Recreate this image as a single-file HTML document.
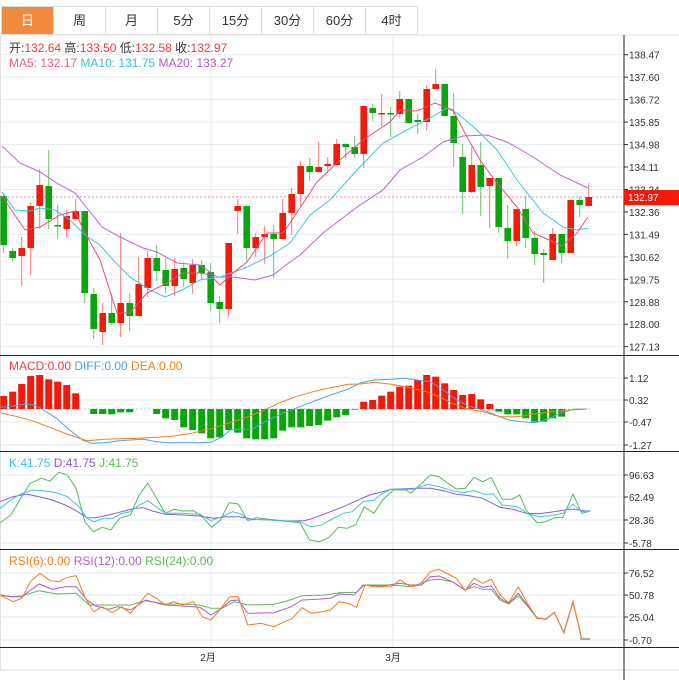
<!DOCTYPE html>
<html><head><meta charset="utf-8"><style>
body{margin:0;background:#fff;width:679px;height:680px;overflow:hidden;font-family:"Liberation Sans","Noto Sans CJK SC",sans-serif}
.tabs{position:absolute;left:1px;top:6px;height:27px;display:flex;border:1px solid #dcdcdc;border-right:none}
.tabs div{width:52px;height:27px;line-height:27px;text-align:center;font-size:13px;color:#333;border-right:1px solid #dcdcdc;box-sizing:border-box}
.tabs div.on{background:#f08a3e;color:#fff}
svg{position:absolute;left:0;top:0}
</style></head><body>
<div class="tabs"><div class="on">日</div><div>周</div><div>月</div><div>5分</div><div>15分</div><div>30分</div><div>60分</div><div>4时</div></div>
<svg id="s" width="679" height="680" xmlns="http://www.w3.org/2000/svg" font-family="Liberation Sans, Noto Sans CJK SC, sans-serif"></svg>
<script>
var S=document.getElementById('s'),h='';
function L(x1,y1,x2,y2,c,w,d){h+='<line x1="'+x1+'" y1="'+y1+'" x2="'+x2+'" y2="'+y2+'" stroke="'+c+'" stroke-width="'+(w||1)+'"'+(d?' stroke-dasharray="'+d+'"':'')+'/>';}
function T(x,y,t,c,s,a){h+='<text x="'+x+'" y="'+y+'" fill="'+c+'" font-size="'+s+'"'+(a?' text-anchor="'+a+'"':'')+'>'+t+'</text>';}
function P(pts,c,fx,fy){var s=pts.map(function(p){return (fx?fx(p[0]):p[0]).toFixed(1)+','+(fy?fy(p[1]):p[1]).toFixed(1)}).join(' ');h+='<polyline points="'+s+'" fill="none" stroke="'+c+'" stroke-width="1"/>';}
var G='#e4ebf1';
// frame
L(0,35,679,35,'#e0e0e0');L(0.5,35,0.5,670,'#e0e0e0');L(0,670,679,670,'#e0e0e0');
// price grid
for(var i=0;i<14;i++){var y=54.7+i*22.46;L(0,y,624,y,G);}
['138.47','137.60','136.72','135.85','134.98','134.11','133.24','132.36','131.49','130.62','129.75','128.88','128.00','127.13'].forEach(function(t,i){var y=54.7+i*22.46;L(624,y,628,y,'#333');T(629,y+4,t,'#333',10);});
// sub grids
[378,400,422,445].forEach(function(y){L(0,y,624,y,G)});
[475,497,520,543].forEach(function(y){L(0,y,624,y,G)});
[573,595,617,640].forEach(function(y){L(0,y,624,y,G)});
L(211,35,211,647,G);L(393,35,393,647,G);
[['1.12',378],['0.32',400],['-0.47',422],['-1.27',445],['96.63',475],['62.49',497],['28.36',520],['-5.78',543],['76.52',573],['50.78',595],['25.04',617],['-0.70',640]].forEach(function(a){L(624,a[1],628,a[1],'#333');T(629,a[1]+4,a[0],'#333',10);});
L(0,355.5,679,355.5,'#222');L(0,451.5,679,451.5,'#222');L(0,549.5,679,549.5,'#222');L(0,647.5,679,647.5,'#222');
L(624,35,624,680,'#222');
T(208,661,'2月','#333',10,'middle');T(393,661,'3月','#333',10,'middle');
// candles [top,bottom,wickTop,wickBot,up]
var C=[[196,245,193,253,0],[251,258,248,261,0],[248,256,237,286,1],[206,248,203,275,1],[185,206,169,229,1],[186,219,150,229,0],[225,226,205,239,0],[216,229,210,237,1],[211,219,199,221,1],[211,293,211,303,0],[294,329,288,339,0],[313,332,303,345,1],[313,323,294,325,0],[303,323,233,337,1],[303,316,293,331,0],[284,316,257,316,1],[258,288,251,297,1],[258,271,245,281,0],[270,286,258,293,0],[269,286,258,296,1],[268,279,262,287,0],[265,283,259,294,1],[265,273,260,280,0],[272,303,263,311,0],[302,309,296,323,0],[243,309,243,317,1],[206,211,199,234,1],[206,248,204,261,0],[237,248,233,257,1],[234,237,226,264,1],[234,239,225,278,0],[213,239,199,239,1],[194,213,188,235,1],[166,194,161,207,1],[166,172,158,181,0],[167,172,142,172,1],[164,166,157,172,1],[144,165,139,165,1],[144,147,143,158,0],[147,154,136,158,0],[106,154,105,168,1],[108,113,104,121,0],[113,114,94,126,1],[113,114,107,137,0],[99,114,91,118,1],[99,123,99,123,0],[120,122,114,134,0],[89,122,85,131,1],[84,89,69,89,1],[84,116,84,117,0],[116,143,93,167,0],[157,192,144,214,0],[165,192,147,193,1],[165,187,142,216,0],[178,186,178,228,1],[178,227,178,233,0],[228,241,205,259,0],[209,241,209,246,1],[209,238,196,248,0],[238,254,231,265,0],[253,255,249,283,0],[234,260,228,260,1],[234,253,234,263,0],[200,253,200,253,1],[200,205,197,217,0],[197,206,183,206,1]];
// ma lines first
var ma20=[[2,146],[20,163],[40,172],[60,185],[75,193],[102,227],[120,237],[143,248],[157,252],[177,263],[200,265],[217,277],[233,277],[255,280],[273,275],[290,262],[300,255],[323,233],[357,207],[383,190],[400,170],[423,157],[443,142],[463,136],[487,135],[507,142],[530,155],[560,175],[588,188]];
var ma10=[[2,192],[15,210],[30,211],[40,208],[55,210],[70,220],[85,235],[100,245],[115,262],[130,277],[150,290],[165,297],[180,291],[200,280],[220,277],[245,268],[270,256],[290,243],[310,215],[330,200],[357,170],[383,143],[407,130],[430,118],[447,108],[457,113],[477,130],[497,150],[517,180],[543,213],[563,227],[577,230],[588,228]];
var ma5=[[2,196],[25,230],[40,227],[60,215],[75,211],[85,233],[100,260],[117,313],[130,313],[147,293],[167,283],[183,273],[200,273],[210,275],[220,285],[233,273],[247,262],[267,233],[283,233],[290,223],[317,182],[340,160],[363,140],[390,122],[400,110],[417,111],[435,103],[453,110],[467,137],[480,160],[497,183],[517,207],[533,233],[547,239],[562,246],[577,233],[588,217]];
L(0,197,624,197,'#f28b8b',1,'2,2');
C.forEach(function(c,i){var x=3.7+9*i,col=c[4]?'#f41a0a':'#0aa50a',wc=c[4]?'#f57a72':'#6cc46c';
L(x,c[2],x,c[3],wc);var hh=Math.max(c[1]-c[0],1.5);h+='<rect x="'+(x-3.3)+'" y="'+c[0]+'" width="6.6" height="'+hh+'" fill="'+col+'"/>';});
P(ma20,'#b865d6');P(ma10,'#3cc8dc');P(ma5,'#ef4a7c');
h+='<rect x="624" y="190" width="55" height="15" fill="#f41a0a"/>';T(628,201,'132.97','#fff',10);
// legends
h+='<text x="9" y="52" font-size="12"><tspan fill="#333">开:</tspan><tspan fill="#f03a3a">132.64 </tspan><tspan fill="#333"> 高:</tspan><tspan fill="#f03a3a">133.50 </tspan><tspan fill="#333"> 低:</tspan><tspan fill="#f03a3a">132.58 </tspan><tspan fill="#333"> 收:</tspan><tspan fill="#f03a3a">132.97</tspan></text>';
h+='<text x="9" y="67" font-size="12"><tspan fill="#ef5a8a">MA5: 132.17 </tspan><tspan fill="#3cc0d8"> MA10: 131.75 </tspan><tspan fill="#b05ccc"> MA20: 133.27</tspan></text>';
h+='<text x="9" y="370" font-size="12"><tspan fill="#f03a3a">MACD:0.00 </tspan><tspan fill="#4aa3e8"> DIFF:0.00 </tspan><tspan fill="#f07f1e"> DEA:0.00</tspan></text>';
h+='<text x="9" y="467" font-size="12"><tspan fill="#3cc0d8">K:41.75 </tspan><tspan fill="#8a5cd6"> D:41.75 </tspan><tspan fill="#5cb85c"> J:41.75</tspan></text>';
h+='<text x="9" y="565" font-size="12"><tspan fill="#f07f1e">RSI(6):0.00 </tspan><tspan fill="#b05ccc"> RSI(12):0.00 </tspan><tspan fill="#5cb85c"> RSI(24):0.00</tspan></text>';
// MACD
var fx=function(v){return v/2.3},fy=function(v){return 350+v/3},fy2=function(v){return 450+v/3};
L(0,409,590,409,'#a8d0ec',1,'2,2');
var hist={0:138,1:125,2:102,3:78,4:75,5:88,6:95,7:105,8:130,10:192,11:192,12:193,13:187,14:187};
[192,205,210,232,240,250,265,262,240,248,265,268,268,265,242,232,232,228,225,212,202,195,179].forEach(function(v,k){hist[17+k]=v});
[155,150,137,125,110,107,90,75,80,100,120,135,132,148,162].forEach(function(v,k){hist[40+k]=v});
[185,193,193,205,215,215,205,200].forEach(function(v,k){hist[55+k]=v});
for(var k in hist){var x=3.7+9*k,y=fy(hist[k]),z=409;var up=y<z;h+='<rect x="'+(x-3.5)+'" y="'+Math.min(y,z)+'" width="7" height="'+Math.abs(y-z)+'" fill="'+(up?'#f41a0a':'#0aa50a')+'"/>';}
P([[0,172],[30,168],[60,162],[80,165],[100,180],[130,205],[160,240],[190,270],[210,280],[240,278],[270,273],[300,270],[330,268],[360,275],[390,278],[420,278],[450,278],[485,277],[510,262],[530,240],[560,238],[580,238],[610,215],[650,190],[690,170],[720,155],[760,135],[800,118],[830,98],[860,90],[900,88],[930,85],[960,90],[990,95],[1020,120],[1050,150],[1080,170],[1110,180],[1140,195],[1170,210],[1200,215],[1230,218],[1260,208],[1290,188],[1320,178],[1350,177]],'#4aa3e8',fx,fy);
P([[0,188],[40,200],[80,215],[120,235],[160,255],[200,272],[240,268],[280,266],[320,265],[360,262],[400,258],[440,250],[480,238],[520,222],[560,205],[600,185],[640,160],[680,140],[720,125],[760,113],[800,103],[830,102],[860,97],[900,103],[940,112],[980,125],[1010,140],[1040,160],[1070,175],[1110,185],[1150,200],[1190,200],[1230,192],[1270,185],[1310,180],[1350,177]],'#f07f1e',fx,fy);
// KDJ
P([[0,218],[25,195],[50,140],[70,100],[95,85],[115,93],[135,67],[155,75],[175,115],[195,215],[215,245],[235,232],[255,240],[275,205],[300,195],[320,135],[340,100],[360,145],[380,190],[400,178],[420,183],[445,182],[465,200],[487,232],[507,210],[527,158],[548,162],[570,212],[590,203],[620,208],[650,213],[690,218],[712,270],[735,275],[757,262],[778,232],[798,235],[818,225],[838,170],[860,190],[880,150],[905,120],[935,120],[945,130],[970,100],[990,75],[1010,80],[1030,100],[1050,117],[1070,115],[1090,82],[1110,95],[1130,83],[1155,148],[1178,148],[1195,135],[1210,180],[1235,218],[1255,215],[1275,203],[1295,202],[1318,132],[1338,190],[1358,183]],'#5cb85c',fx,fy2);
P([[0,155],[30,140],[60,132],[90,140],[120,150],[150,165],[175,182],[200,203],[220,203],[250,195],[280,185],[310,175],[330,173],[350,183],[380,193],[420,195],[460,198],[490,205],[520,200],[550,200],[580,208],[620,210],[660,213],[700,212],[720,205],[750,190],[790,170],[820,152],[850,135],[880,125],[900,118],[960,115],[990,115],[1020,122],[1050,133],[1080,137],[1110,145],[1150,172],[1180,178],[1210,190],[1240,191],[1270,186],[1300,180],[1320,177],[1340,182],[1358,183]],'#8a5cd6',fx,fy2);
P([[0,175],[25,150],[50,130],[75,120],[100,122],[130,128],[155,140],[180,168],[200,205],[215,215],[240,205],[260,205],[280,190],[300,185],[320,165],[340,152],[380,190],[420,190],[460,193],[485,212],[510,200],[535,185],[555,192],[570,210],[600,208],[640,212],[670,213],[690,215],[715,230],[740,225],[760,210],[790,190],[810,185],[835,155],[860,150],[880,130],[900,118],[930,118],[950,118],[985,103],[1010,110],[1040,122],[1065,128],[1090,122],[1115,133],[1135,132],[1155,165],[1190,170],[1215,192],[1240,200],[1265,197],[1295,190],[1318,162],[1338,185],[1358,182]],'#3cc8dc',fx,fy2);
// RSI
P([[0,435],[25,440],[50,438],[90,422],[130,432],[175,430],[205,465],[250,465],[300,465],[335,452],[380,462],[420,462],[460,465],[485,475],[510,475],[540,455],[570,465],[630,463],[660,453],[695,437],[750,435],[780,428],[820,427],[838,405],[900,405],[945,410],[990,390],[1010,388],[1040,395],[1070,420],[1090,410],[1110,418],[1130,418],[1150,450],[1170,462],[1192,437],[1213,468],[1235,505],[1255,508],[1275,487],[1297,548],[1318,455],[1338,567],[1358,567]],'#5cb85c',fx,fy2);
P([[0,435],[25,440],[50,440],[90,402],[120,418],[150,410],[175,410],[200,450],[220,468],[250,478],[270,470],[300,480],[335,450],[380,465],[420,468],[460,472],[485,495],[510,475],[530,452],[548,450],[570,490],[630,488],[670,470],[695,450],[730,448],[760,445],[780,432],[815,435],[835,405],[880,408],[920,400],[945,405],[970,405],[990,380],[1010,378],[1040,395],[1070,420],[1090,400],[1110,412],[1130,408],[1150,445],[1170,460],[1192,430],[1213,465],[1235,503],[1255,508],[1275,487],[1297,548],[1318,455],[1338,567],[1358,567]],'#b05ccc',fx,fy2);
P([[0,435],[30,455],[50,445],[70,395],[92,370],[115,392],[135,395],[155,382],[175,377],[195,440],[215,485],[235,470],[258,488],[280,470],[300,490],[320,460],[340,430],[360,445],[380,465],[400,455],[420,465],[445,455],[465,500],[485,510],[505,480],[528,440],[548,440],[570,525],[600,520],[630,530],[650,518],[672,505],[695,473],[715,490],[740,485],[760,480],[780,455],[800,460],[820,472],[840,405],[860,410],[900,410],[920,390],[945,410],[965,405],[990,365],[1010,358],[1030,372],[1050,385],[1070,422],[1090,385],[1110,400],[1130,388],[1150,435],[1170,458],[1192,410],[1213,460],[1235,505],[1255,508],[1275,487],[1297,548],[1318,455],[1338,567],[1358,567]],'#f07f1e',fx,fy2);
L(580,639,590,639,'#aaa',2);
S.innerHTML=h;
</script>
</body></html>
